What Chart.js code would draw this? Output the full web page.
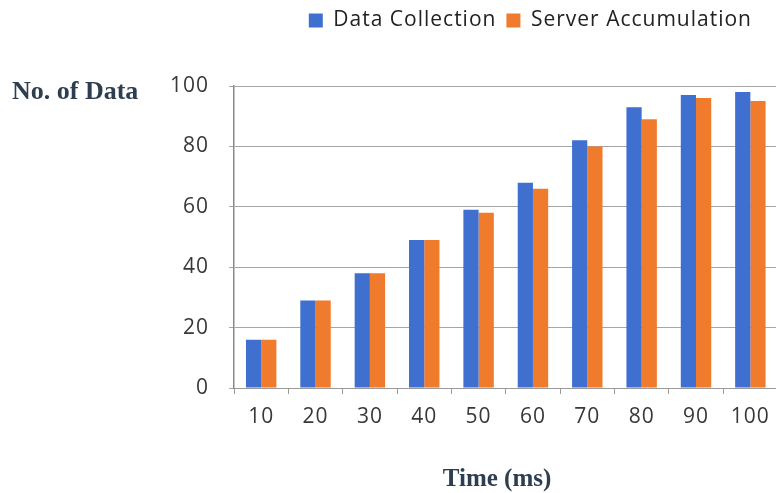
<!DOCTYPE html>
<html lang="en">
<head>
    <meta charset="UTF-8">
    <title>Data Collection vs Server Accumulation</title>
    <script src="https://cdn.jsdelivr.net/npm/chart.js"></script>
    <style>
        body {
            margin: 0;
            background: #fff;
            overflow: hidden;
        }
        #wrap {
            position: relative;
            width: 780px;
            height: 493px;
        }
    </style>
</head>
<body>
    <div id="wrap"><canvas id="barChart"></canvas></div>

    <script>
        // values
        const timeLabels = ['10', '20', '30', '40', '50', '60', '70', '80', '90', '100'];
        const dataCollection = [16, 29, 38, 49, 59, 68, 82, 93, 97, 98];
        const serverAccumulation = [16, 29, 38, 49, 58, 66, 80, 89, 96, 95];
        const yTicks = [0, 20, 40, 60, 80, 100];

        // the source font is a bit wider than Open Sans, so open the letters up a little
        const spacing = {
            id: 'spacing',
            beforeUpdate(chart) {
                chart.ctx.letterSpacing = '1px';
            },
            afterLayout(chart) {
                // pull the legend in from the right edge
                chart.legend.right -= 18;
            }
        };

        // axis titles drawn on the canvas (the y one sits horizontally at top-left)
        const axisTitles = {
            id: 'axisTitles',
            afterDraw(chart) {
                const ctx = chart.ctx;
                ctx.save();
                ctx.letterSpacing = '0px';
                ctx.fillStyle = '#2c3e50';
                ctx.textBaseline = 'middle';
                ctx.textAlign = 'left';
                ctx.font = 'bold 26px "Liberation Serif", serif';
                ctx.fillText('No. of Data', 12, 92);
                ctx.textAlign = 'center';
                ctx.font = 'bold 25px "Liberation Serif", serif';
                ctx.fillText('Time (ms)', 497, 480);
                ctx.restore();
            }
        };

        new Chart(document.getElementById('barChart'), {
            type: 'bar',
            data: {
                labels: timeLabels,
                datasets: [{
                    label: 'Data Collection',
                    data: dataCollection,
                    backgroundColor: '#3f6fcf'
                }, {
                    label: 'Server Accumulation',
                    data: serverAccumulation,
                    backgroundColor: '#f07b2c'
                }]
            },
            options: {
                responsive: true,
                maintainAspectRatio: false,
                animation: false,
                datasets: {
                    bar: { categoryPercentage: 0.56, barPercentage: 1.0 }
                },
                layout: { padding: 0 },
                plugins: {
                    legend: {
                        position: 'top',
                        align: 'end',
                        labels: {
                            boxWidth: 14,
                            boxHeight: 14,
                            padding: 10,
                            color: '#222',
                            font: { family: '"Open Sans", sans-serif', size: 21 }
                        }
                    },
                    tooltip: { enabled: false }
                },
                scales: {
                    x: {
                        grid: {
                            offset: true,
                            drawOnChartArea: false,
                            tickLength: 6,
                            color: '#999'
                        },
                        border: { color: '#999', width: 1 },
                        ticks: {
                            color: '#383838',
                            padding: 10,
                            font: { family: '"Open Sans", sans-serif', size: 21 }
                        },
                        afterFit(s) { s.height = 105; }
                    },
                    top: {
                        type: 'category',
                        labels: timeLabels,
                        position: 'top',
                        grid: { display: false },
                        border: { display: false },
                        ticks: { display: false },
                        afterFit(s) { s.height = 45; }
                    },
                    y: {
                        min: 0,
                        max: 100,
                        afterBuildTicks(s) { s.ticks = yTicks.map(v => ({ value: v })); },
                        grid: {
                            color: '#a6a6a6',
                            lineWidth: 1,
                            tickLength: 5
                        },
                        border: { color: '#888', width: 1.5 },
                        ticks: {
                            color: '#383838',
                            padding: 20,
                            font: { family: '"Open Sans", sans-serif', size: 21 }
                        },
                        afterFit(s) { s.width = 234; }
                    }
                }
            },
            plugins: [spacing, axisTitles]
        });
    </script>
</body>
</html>
